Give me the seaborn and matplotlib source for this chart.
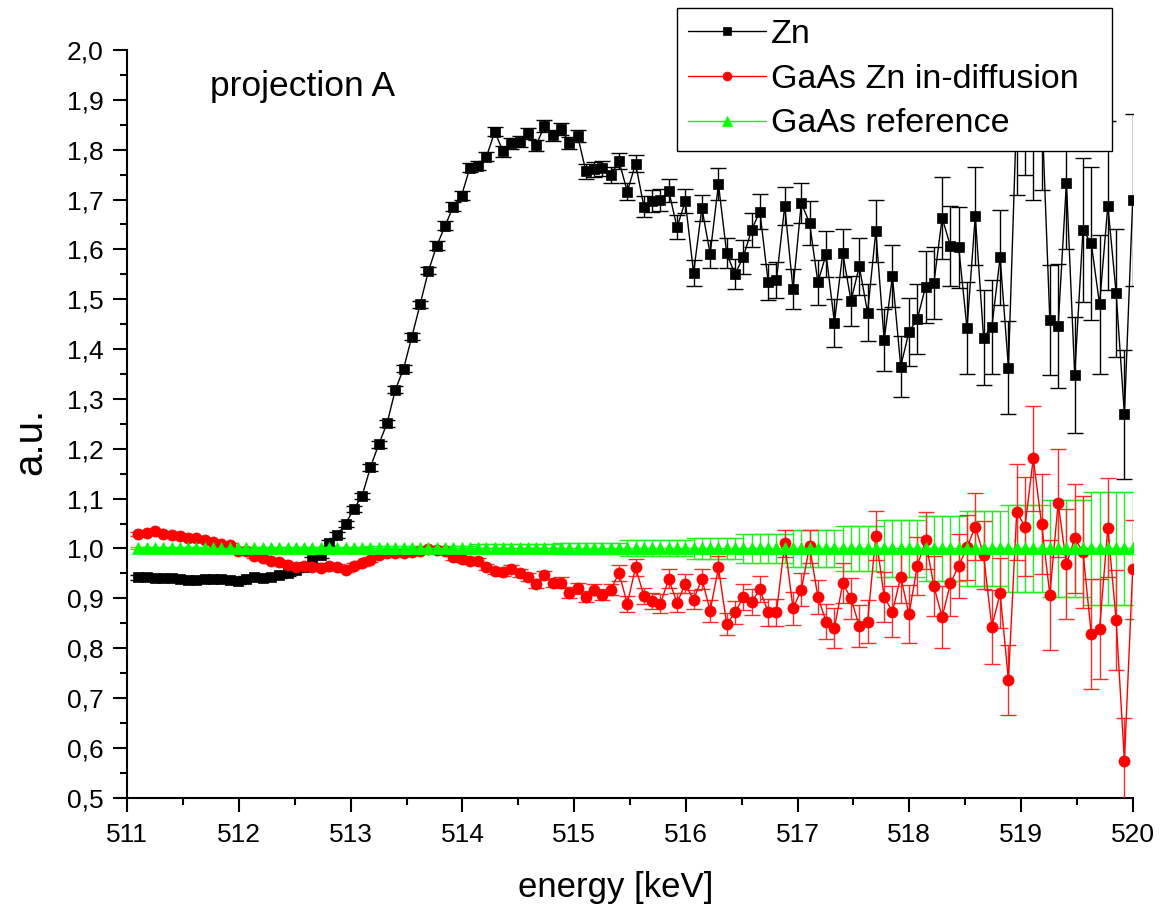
import numpy as np
import matplotlib
matplotlib.use("Agg")
import matplotlib.pyplot as plt
from matplotlib.ticker import MultipleLocator, FuncFormatter
import seaborn as sns

# Energy channels of the spectra (keV), evenly spaced
energy = np.round(np.linspace(511.10, 520.00, 121), 4)

# Zn reference spectrum
zn = [
    0.942, 0.942, 0.941, 0.941, 0.940, 0.939, 0.937, 0.937, 0.939, 0.938,
    0.939, 0.937, 0.934, 0.939, 0.942, 0.940, 0.943, 0.946, 0.950, 0.957,
    0.962, 0.977, 0.987, 1.010, 1.027, 1.050, 1.079, 1.106, 1.163, 1.209,
    1.251, 1.318, 1.361, 1.425, 1.490, 1.557, 1.607, 1.647, 1.686, 1.708,
    1.764, 1.768, 1.786, 1.836, 1.797, 1.813, 1.816, 1.833, 1.809, 1.848,
    1.829, 1.841, 1.814, 1.828, 1.757, 1.761, 1.763, 1.749, 1.777, 1.716,
    1.772, 1.686, 1.698, 1.699, 1.718, 1.644, 1.697, 1.553, 1.683, 1.591,
    1.731, 1.592, 1.550, 1.585, 1.639, 1.676, 1.535, 1.539, 1.687, 1.520,
    1.693, 1.653, 1.534, 1.590, 1.453, 1.593, 1.497, 1.566, 1.473, 1.637,
    1.418, 1.546, 1.365, 1.435, 1.460, 1.525, 1.532, 1.663, 1.607, 1.604,
    1.442, 1.667, 1.423, 1.445, 1.584, 1.363, 1.880, 1.920, 1.865, 1.895,
    1.458, 1.446, 1.734, 1.348, 1.639, 1.612, 1.490, 1.688, 1.512, 1.269,
    1.699,
]
zn_err = [
    0.005, 0.005, 0.005, 0.005, 0.005, 0.005, 0.005, 0.005, 0.005, 0.005,
    0.005, 0.005, 0.005, 0.005, 0.005, 0.005, 0.005, 0.005, 0.005, 0.005,
    0.006, 0.006, 0.006, 0.006, 0.006, 0.006, 0.006, 0.006, 0.007, 0.007,
    0.007, 0.007, 0.007, 0.007, 0.007, 0.007, 0.009, 0.009, 0.009, 0.009,
    0.009, 0.009, 0.009, 0.009, 0.011, 0.011, 0.011, 0.011, 0.011, 0.012,
    0.011, 0.012, 0.012, 0.012, 0.015, 0.015, 0.015, 0.016, 0.016, 0.017,
    0.017, 0.022, 0.022, 0.022, 0.023, 0.024, 0.024, 0.026, 0.027, 0.028,
    0.032, 0.030, 0.030, 0.034, 0.035, 0.035, 0.036, 0.036, 0.038, 0.040,
    0.041, 0.044, 0.045, 0.046, 0.048, 0.048, 0.050, 0.057, 0.057, 0.063,
    0.062, 0.062, 0.062, 0.068, 0.070, 0.072, 0.072, 0.083, 0.080, 0.082,
    0.092, 0.099, 0.095, 0.094, 0.096, 0.094, 0.170, 0.170, 0.165, 0.175,
    0.110, 0.125, 0.134, 0.117, 0.144, 0.153, 0.139, 0.170, 0.128, 0.130,
    0.172,
]

# GaAs after Zn in-diffusion
gaas_zn = [
    1.030, 1.031, 1.035, 1.030, 1.027, 1.025, 1.022, 1.020, 1.017, 1.012,
    1.009, 1.007, 0.995, 0.994, 0.985, 0.980, 0.975, 0.972, 0.967, 0.963,
    0.965, 0.963, 0.960, 0.965, 0.963, 0.957, 0.965, 0.970, 0.977, 0.987,
    0.990, 0.991, 0.991, 0.993, 0.995, 0.998, 0.996, 0.995, 0.982, 0.978,
    0.974, 0.975, 0.963, 0.955, 0.953, 0.958, 0.951, 0.942, 0.928, 0.947,
    0.931, 0.931, 0.911, 0.920, 0.903, 0.917, 0.907, 0.917, 0.951, 0.889,
    0.962, 0.905, 0.895, 0.889, 0.939, 0.891, 0.929, 0.897, 0.939, 0.875,
    0.962, 0.848, 0.872, 0.902, 0.893, 0.918, 0.872, 0.872, 1.010, 0.880,
    0.917, 1.004, 0.903, 0.853, 0.840, 0.930, 0.900, 0.844, 0.853, 1.026,
    0.903, 0.873, 0.943, 0.868, 0.965, 1.016, 0.925, 0.862, 0.930, 0.965,
    1.002, 1.044, 0.987, 0.843, 0.910, 0.736, 1.073, 1.044, 1.181, 1.049,
    0.907, 1.091, 0.969, 1.020, 0.993, 0.828, 0.838, 1.042, 0.856, 0.574,
    0.958,
]
gaas_zn_err = [
    0.004, 0.004, 0.004, 0.004, 0.004, 0.004, 0.004, 0.004, 0.004, 0.004,
    0.004, 0.004, 0.004, 0.004, 0.004, 0.004, 0.004, 0.004, 0.004, 0.004,
    0.004, 0.005, 0.005, 0.005, 0.005, 0.005, 0.005, 0.005, 0.005, 0.005,
    0.005, 0.005, 0.005, 0.005, 0.005, 0.005, 0.006, 0.006, 0.006, 0.006,
    0.006, 0.006, 0.006, 0.006, 0.008, 0.008, 0.008, 0.008, 0.008, 0.008,
    0.008, 0.011, 0.011, 0.011, 0.011, 0.011, 0.011, 0.011, 0.016, 0.016,
    0.017, 0.016, 0.016, 0.019, 0.019, 0.019, 0.019, 0.019, 0.020, 0.022,
    0.022, 0.022, 0.023, 0.026, 0.026, 0.026, 0.027, 0.027, 0.028, 0.033,
    0.033, 0.034, 0.034, 0.035, 0.040, 0.040, 0.041, 0.042, 0.043, 0.050,
    0.050, 0.051, 0.052, 0.058, 0.059, 0.058, 0.060, 0.062, 0.065, 0.065,
    0.066, 0.067, 0.068, 0.074, 0.070, 0.070, 0.096, 0.100, 0.105, 0.100,
    0.110, 0.108, 0.110, 0.110, 0.112, 0.110, 0.100, 0.100, 0.100, 0.086,
    0.100,
]

# Untreated GaAs reference (normalised to 1)
gaas_ref = [1.0] * len(energy)
gaas_ref_err = [
    0.002, 0.002, 0.002, 0.002, 0.002, 0.002, 0.002, 0.002, 0.002, 0.002,
    0.002, 0.002, 0.002, 0.002, 0.002, 0.003, 0.003, 0.003, 0.003, 0.003,
    0.003, 0.003, 0.003, 0.003, 0.003, 0.003, 0.003, 0.003, 0.005, 0.005,
    0.005, 0.005, 0.005, 0.005, 0.005, 0.005, 0.005, 0.005, 0.005, 0.005,
    0.005, 0.008, 0.008, 0.008, 0.008, 0.008, 0.008, 0.008, 0.008, 0.008,
    0.008, 0.011, 0.011, 0.011, 0.011, 0.011, 0.011, 0.011, 0.011, 0.016,
    0.016, 0.016, 0.016, 0.016, 0.016, 0.016, 0.016, 0.022, 0.022, 0.022,
    0.022, 0.022, 0.022, 0.030, 0.030, 0.030, 0.030, 0.030, 0.030, 0.037,
    0.037, 0.037, 0.037, 0.037, 0.037, 0.045, 0.045, 0.045, 0.045, 0.045,
    0.058, 0.058, 0.058, 0.058, 0.058, 0.066, 0.066, 0.066, 0.066, 0.066,
    0.075, 0.075, 0.075, 0.075, 0.075, 0.088, 0.088, 0.088, 0.088, 0.088,
    0.098, 0.098, 0.098, 0.098, 0.098, 0.113, 0.113, 0.113, 0.113, 0.113,
    0.113,
]

series_labels = ["Zn", "GaAs Zn in-diffusion", "GaAs reference"]
x_major = [511, 512, 513, 514, 515, 516, 517, 518, 519, 520]
y_major = [0.5, 0.6, 0.7, 0.8, 0.9, 1.0, 1.1, 1.2, 1.3, 1.4, 1.5, 1.6, 1.7, 1.8, 1.9, 2.0]
annotation = "projection A"

sns.set_theme(style="ticks")
plt.rcParams["font.family"] = ["Liberation Sans", "DejaVu Sans"]

W, H = 1164, 907
fig = plt.figure(figsize=(W / 100, H / 100), dpi=100)
ax = fig.add_axes([127.3 / W, (H - 797.7) / H, 1005.4 / W, 747.7 / H])

cap = 5.5
# Zn
ax.errorbar(energy, zn, yerr=zn_err, fmt="none", ecolor="black",
            elinewidth=1.0, capsize=cap, capthick=1.0, zorder=2)
sns.lineplot(x=energy, y=zn, ax=ax, color="black", linewidth=1.0,
             marker="s", markersize=7, markeredgecolor="black",
             markeredgewidth=0.5, label=series_labels[0], zorder=2.2,
             errorbar=None, sort=False)
# GaAs reference error bars sit below the in-diffusion data
ax.errorbar(energy, gaas_ref, yerr=gaas_ref_err, fmt="none", ecolor="#22ee22",
            elinewidth=1.0, capsize=cap, capthick=1.0, zorder=2.5)
# GaAs Zn in-diffusion
ax.errorbar(energy, gaas_zn, yerr=gaas_zn_err, fmt="none", ecolor="#ff2a2a",
            elinewidth=1.0, capsize=cap, capthick=1.0, zorder=3)
sns.lineplot(x=energy, y=gaas_zn, ax=ax, color="#ff0000", linewidth=1.0,
             marker="o", markersize=8, markeredgecolor="#ff0000",
             markeredgewidth=0.5, label=series_labels[1], zorder=3.2,
             errorbar=None, sort=False)
# GaAs reference
sns.lineplot(x=energy, y=gaas_ref, ax=ax, color="#00ff00", linewidth=1.0,
             marker="^", markersize=9, markeredgecolor="#00ff00",
             markeredgewidth=0.5, label=series_labels[2], zorder=4,
             errorbar=None, sort=False)

ax.set_xlim(511, 520)
ax.set_ylim(0.5, 2.0)
ax.set_xticks(x_major)
ax.set_yticks(y_major)
ax.xaxis.set_minor_locator(MultipleLocator(0.5))
ax.yaxis.set_minor_locator(MultipleLocator(0.05))
ax.yaxis.set_major_formatter(FuncFormatter(lambda v, p: f"{v:.1f}".replace(".", ",")))
ax.xaxis.set_major_formatter(FuncFormatter(lambda v, p: f"{v:.0f}"))

ax.tick_params(axis="both", which="major", direction="out", length=10,
               width=1.5, labelsize=19, color="black", labelcolor="black")
ax.tick_params(axis="both", which="minor", direction="out", length=5,
               width=1.5, color="black")
ax.tick_params(axis="x", which="major", pad=8)
ax.tick_params(axis="y", which="major", pad=7)

for side in ["top", "right"]:
    ax.spines[side].set_visible(False)
for side in ["left", "bottom"]:
    ax.spines[side].set_linewidth(1.5)
    ax.spines[side].set_color("black")
ax.set_facecolor("white")
fig.patch.set_facecolor("white")

ax.set_xlabel("energy [keV]", fontsize=25, color="black")
ax.set_ylabel("a.u.", fontsize=29, color="black")
ax.xaxis.set_label_coords((616 - 127.3) / 1005.4, (797.7 - 887) / 747.7)
ax.xaxis.label.set_verticalalignment("center")
ax.yaxis.set_label_coords((30 - 127.3) / 1005.4, (797.7 - 441) / 747.7)
ax.yaxis.label.set_verticalalignment("center")

ax.text(511.74, 1.926, annotation, fontsize=25.5, ha="left", va="center",
        color="black")

handles, labels = ax.get_legend_handles_labels()
leg = ax.legend(handles, labels, loc="upper left",
                bbox_to_anchor=(677 / W, 1 - 143 / H, 435 / W, 135 / H),
                bbox_transform=fig.transFigure, mode="expand",
                borderaxespad=0, frameon=True, fancybox=False,
                edgecolor="black", framealpha=1, facecolor="white",
                fontsize=24.5, handlelength=2.3, handletextpad=0.12,
                labelspacing=0.40, borderpad=0.33, markerscale=0.8)
leg.get_frame().set_linewidth(1.0)
leg.set_zorder(10)
for t in leg.get_texts():
    t.set_color("black")

fig.savefig("out.png", dpi=100, facecolor="white")
